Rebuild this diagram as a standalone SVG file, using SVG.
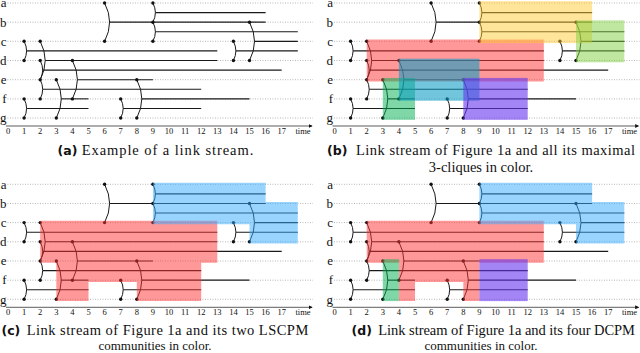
<svg xmlns="http://www.w3.org/2000/svg" width="640" height="353" viewBox="0 0 640 353">
<style>
.dt{stroke:#999;stroke-width:0.8;stroke-dasharray:0.9 1.6;fill:none}
.ln{stroke:#1a1a1a;stroke-width:1.1;fill:none}
.arc{stroke:#1a1a1a;stroke-width:1;fill:none}
.nd{fill:#111}
.ax{stroke:#333;stroke-width:0.8;fill:none}
.lab{font-family:"Liberation Serif",serif;font-size:13px;text-anchor:end;fill:#111}
.tk{font-family:"Liberation Serif",serif;font-size:8.5px;text-anchor:middle;fill:#111}
.cap{font-family:"Liberation Serif",serif;font-size:14.5px;fill:#111}
.cap2{font-family:"Liberation Serif",serif;font-size:13px;fill:#111;text-anchor:middle}
.capb{font-family:"DejaVu Sans",sans-serif;font-size:12.5px;font-weight:bold;fill:#111}
.red{fill:#ff3333;fill-opacity:0.5}
.yel{fill:#ffcc33;fill-opacity:0.5}
.lgr{fill:#80d040;fill-opacity:0.5}
.grn{fill:#00b050;fill-opacity:0.5}
.blu{fill:#0a9cc4;fill-opacity:0.58}
.pur{fill:#6633ee;fill-opacity:0.6}
.sky{fill:#33aaff;fill-opacity:0.5}
</style>
<defs>
<marker id="arr" viewBox="0 0 6 6" refX="5" refY="3" markerWidth="4" markerHeight="4" orient="auto" markerUnits="userSpaceOnUse">
<path d="M0,0 L6,3 L0,6 z" fill="#111"/>
</marker>
<g id="stream">
<g id="rows">
<path class="dt" d="M7.5,3 H313 M7.5,22.2 H313 M7.5,41.3 H313 M7.5,60.5 H313 M7.5,79.7 H313 M7.5,98.9 H313 M7.5,118 H313"/>
<text class="lab" x="6.5" y="7.3">a</text>
<text class="lab" x="6.5" y="26.5">b</text>
<text class="lab" x="6.5" y="45.6">c</text>
<text class="lab" x="6.5" y="64.8">d</text>
<text class="lab" x="6.5" y="84">e</text>
<text class="lab" x="6.5" y="103.2">f</text>
<text class="lab" x="6.5" y="122.3">g</text>
</g>
<g id="axis">
<path class="ax" d="M6,126 H312" marker-end="url(#arr)"/>
<text class="tk" x="8" y="133.5">0</text>
<text class="tk" x="24.1" y="133.5">1</text>
<text class="tk" x="40.2" y="133.5">2</text>
<text class="tk" x="56.3" y="133.5">3</text>
<text class="tk" x="72.4" y="133.5">4</text>
<text class="tk" x="88.5" y="133.5">5</text>
<text class="tk" x="104.6" y="133.5">6</text>
<text class="tk" x="120.7" y="133.5">7</text>
<text class="tk" x="136.8" y="133.5">8</text>
<text class="tk" x="152.9" y="133.5">9</text>
<text class="tk" x="169" y="133.5">10</text>
<text class="tk" x="185.1" y="133.5">11</text>
<text class="tk" x="201.2" y="133.5">12</text>
<text class="tk" x="217.3" y="133.5">13</text>
<text class="tk" x="233.4" y="133.5">14</text>
<text class="tk" x="249.5" y="133.5">15</text>
<text class="tk" x="265.6" y="133.5">16</text>
<text class="tk" x="281.7" y="133.5">17</text>
<text class="tk" x="303" y="133.5">time</text>
</g>
<g id="connectors">
<path class="arc" d="M24.1,41.3 Q29.1,50.9 24.1,60.5"/><path class="ln" d="M26.6,50.9 H217.3"/>
<path class="arc" d="M24.1,98.9 Q29.1,108.45 24.1,118"/><path class="ln" d="M26.6,108.45 H88.5"/>
<path class="arc" d="M40.2,41.3 Q50.2,60.5 40.2,79.7"/><path class="ln" d="M45.2,60.5 H217.3"/>
<path class="arc" d="M40.2,60.5 Q45.2,70.1 40.2,79.7"/><path class="ln" d="M42.7,70.1 H281.7"/>
<path class="arc" d="M40.2,79.7 Q45.2,89.3 40.2,98.9"/><path class="ln" d="M42.7,89.3 H201.2"/>
<path class="arc" d="M56.3,79.7 Q66.3,98.85 56.3,118"/><path class="ln" d="M61.3,98.85 H88.5"/>
<path class="arc" d="M72.4,60.5 Q82.4,79.7 72.4,98.9"/><path class="ln" d="M77.4,79.7 H152.9"/>
<path class="arc" d="M104.6,3 Q114.6,22.15 104.6,41.3"/><path class="ln" d="M109.6,22.15 H265.6"/>
<path class="arc" d="M120.7,98.9 Q125.7,108.45 120.7,118"/><path class="ln" d="M123.2,108.45 H201.2"/>
<path class="arc" d="M136.8,79.7 Q146.8,98.85 136.8,118"/><path class="ln" d="M141.8,98.85 H249.5"/>
<path class="arc" d="M152.9,3 Q157.9,12.6 152.9,22.2"/><path class="ln" d="M155.4,12.6 H265.6"/>
<path class="arc" d="M152.9,22.2 Q157.9,31.75 152.9,41.3"/><path class="ln" d="M155.4,31.75 H297.8"/>
<path class="arc" d="M233.4,41.3 Q238.4,50.9 233.4,60.5"/><path class="ln" d="M235.9,50.9 H297.8"/>
<path class="arc" d="M249.5,22.2 Q259.5,41.35 249.5,60.5"/><path class="ln" d="M254.5,41.35 H297.8"/>
</g>
<g id="nodes">
<circle class="nd" cx="24.1" cy="41.3" r="1.7"/><circle class="nd" cx="24.1" cy="60.5" r="1.7"/><circle class="nd" cx="24.1" cy="98.9" r="1.7"/><circle class="nd" cx="24.1" cy="118" r="1.7"/>
<circle class="nd" cx="40.2" cy="41.3" r="1.7"/><circle class="nd" cx="40.2" cy="60.5" r="1.7"/><circle class="nd" cx="40.2" cy="79.7" r="1.7"/><circle class="nd" cx="40.2" cy="98.9" r="1.7"/>
<circle class="nd" cx="56.3" cy="79.7" r="1.7"/><circle class="nd" cx="56.3" cy="118" r="1.7"/>
<circle class="nd" cx="72.4" cy="60.5" r="1.7"/><circle class="nd" cx="72.4" cy="98.9" r="1.7"/>
<circle class="nd" cx="104.6" cy="3" r="1.7"/><circle class="nd" cx="104.6" cy="41.3" r="1.7"/>
<circle class="nd" cx="120.7" cy="98.9" r="1.7"/><circle class="nd" cx="120.7" cy="118" r="1.7"/>
<circle class="nd" cx="136.8" cy="79.7" r="1.7"/><circle class="nd" cx="136.8" cy="118" r="1.7"/>
<circle class="nd" cx="152.9" cy="3" r="1.7"/><circle class="nd" cx="152.9" cy="22.2" r="1.7"/><circle class="nd" cx="152.9" cy="41.3" r="1.7"/>
<circle class="nd" cx="233.4" cy="41.3" r="1.7"/><circle class="nd" cx="233.4" cy="60.5" r="1.7"/>
<circle class="nd" cx="249.5" cy="22.2" r="1.7"/><circle class="nd" cx="249.5" cy="60.5" r="1.7"/>
</g>
</g>
</defs>

<g id="panel-a">
<use href="#stream"/>
<text class="capb" x="57.5" y="155">(a)</text>
<text class="cap" x="81.7" y="155" textLength="171.6" lengthAdjust="spacing">Example of a link stream.</text>
</g>

<g id="panel-b" transform="translate(326.5,0)">
<use href="#stream"/>
<rect class="red" x="40.2" y="39.5" width="177.1" height="42"/>
<rect class="yel" x="152.9" y="1.2" width="112.7" height="41.9"/>
<rect class="lgr" x="249.5" y="20.4" width="48.3" height="41.9"/>
<rect class="grn" x="56.3" y="77.9" width="32.2" height="41.9"/>
<rect class="blu" x="72.4" y="58.7" width="80.5" height="42"/>
<rect class="pur" x="136.8" y="77.9" width="64.4" height="41.9"/>
</g>
<g id="caption-b">
<text class="capb" x="327" y="155">(b)</text>
<text class="cap" x="356" y="155" textLength="279" lengthAdjust="spacing">Link stream of Figure 1a and all its maximal</text>
<text class="cap2" x="481" y="171.5" style="font-size:14.5px">3-cliques in color.</text>
</g>

<g id="panel-c" transform="translate(0,181.3)">
<use href="#stream"/>
<path class="red" d="M40.2,39.5 H217.3 V81.5 H201.2 V119.8 H136.8 V100.7 H88.5 V119.8 H56.3 V81.5 H40.2 Z"/>
<path class="sky" d="M152.9,1.4 H265.6 V20.6 H297.8 V62.1 H249.5 V42.9 H152.9 Z"/>
</g>
<g id="caption-c">
<text class="capb" x="1.5" y="335.3">(c)</text>
<text class="cap" x="26.7" y="335.3" textLength="281.6" lengthAdjust="spacing">Link stream of Figure 1a and its two LSCPM</text>
<text class="cap2" x="155" y="349.9">communities in color.</text>
</g>

<g id="panel-d" transform="translate(326.5,181.3)">
<use href="#stream"/>
<path class="red" d="M40.2,39.5 H217.3 V81.5 H152.9 V119.8 H136.8 V100.7 H88.5 V119.8 H72.4 V81.5 H40.2 Z"/>
<rect class="grn" x="56.3" y="77.9" width="16.1" height="41.9"/>
<rect class="pur" x="152.9" y="77.9" width="48.3" height="41.9"/>
<path class="sky" d="M152.9,1.4 H265.6 V20.6 H297.8 V62.1 H249.5 V42.9 H152.9 Z"/>
</g>
<g id="caption-d">
<text class="capb" x="351.5" y="335.3">(d)</text>
<text class="cap" x="378.3" y="335.3" textLength="256.7" lengthAdjust="spacing">Link stream of Figure 1a and its four DCPM</text>
<text class="cap2" x="481" y="349.9">communities in color.</text>
</g>
</svg>
